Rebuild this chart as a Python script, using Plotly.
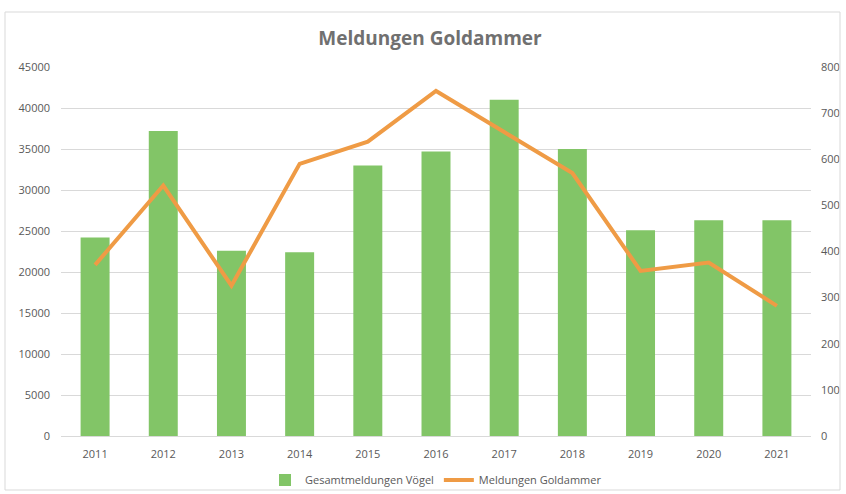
import plotly.graph_objects as go

years = ["2011", "2012", "2013", "2014", "2015", "2016", "2017", "2018", "2019", "2020", "2021"]
gesamt_voegel = [24200, 37200, 22600, 22400, 33000, 34700, 41000, 35000, 25100, 26300, 26300]
goldammer = [371, 543, 326, 590, 638, 748, 659, 570, 358, 376, 282]

fig = go.Figure()
fig.add_trace(go.Bar(
    x=years, y=gesamt_voegel, name="Gesamtmeldungen Vögel",
    marker=dict(color="#82C567", line=dict(width=0)),
    yaxis="y",
))
fig.add_trace(go.Scatter(
    x=years, y=goldammer, name="Meldungen Goldammer",
    mode="lines", line=dict(color="#EF9B45", width=4),
    yaxis="y2",
))

font_fam = "Open Sans, Liberation Sans, sans-serif"
fig.update_layout(
    width=846, height=494,
    margin=dict(l=61, r=35, t=67, b=58, autoexpand=False),
    paper_bgcolor="white", plot_bgcolor="white",
    font=dict(family=font_fam, color="#595959", size=11),
    title=dict(text="<b>Meldungen Goldammer</b>", x=430 / 846, xanchor="center",
               y=1 - 38 / 494, yanchor="middle",
               font=dict(size=19, color="#707070", family=font_fam)),
    bargap=0.575,
    showlegend=True,
    legend=dict(orientation="h", x=0.5, xanchor="center", y=-44 / 369, yanchor="middle",
                bgcolor="rgba(0,0,0,0)",
                font=dict(size=11, color="#595959"), traceorder="normal"),
    xaxis=dict(showgrid=False, showline=True, linecolor="#D9D9D9", linewidth=1,
               ticks="", tickfont=dict(size=11, color="#595959"),
               ticklabelstandoff=8, automargin=False),
    yaxis=dict(range=[0, 45000], dtick=5000, tickformat="d", showgrid=True, gridcolor="#D9D9D9",
               gridwidth=1, zeroline=False, showline=False, ticks="",
               tickfont=dict(size=11, color="#595959"), ticklabelstandoff=10,
               automargin=False),
    yaxis2=dict(range=[0, 800], dtick=100, tickformat="d", overlaying="y", side="right",
                showgrid=False, zeroline=False, showline=False, ticks="",
                tickfont=dict(size=11, color="#595959"), ticklabelstandoff=9,
                automargin=False),
    shapes=[dict(type="rect", xref="paper", yref="paper",
                 x0=-56 / 750, x1=1 + 29 / 750, y0=-54 / 369, y1=1 + 55 / 369,
                 line=dict(color="#D9D9D9", width=1))],
)

fig.write_html("out.html", config={"displayModeBar": False},
               post_script="document.body.style.margin='0';document.body.style.overflow='hidden';")
